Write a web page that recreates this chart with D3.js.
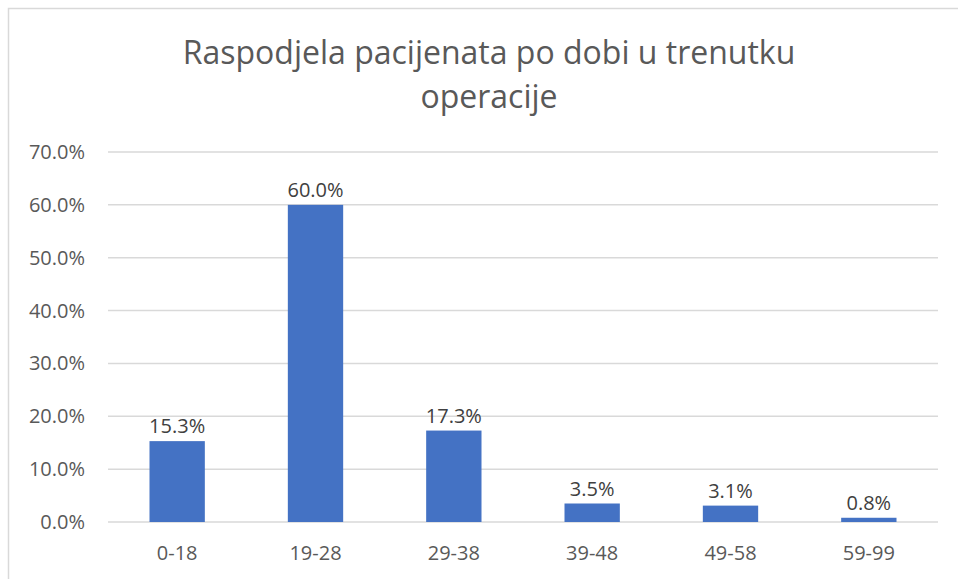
<!DOCTYPE html>
<html>
<head>
<meta charset="utf-8">
<script src="https://cdn.jsdelivr.net/npm/d3@7"></script>
<style>
  body { margin: 0; background: #fff; }
  text { font-family: "Open Sans", "Liberation Sans", sans-serif; fill: #595959; }
</style>
</head>
<body>
<div id="chart"></div>
<script>
const categories = ["0-18", "19-28", "29-38", "39-48", "49-58", "59-99"];
const values = [15.3, 60.0, 17.3, 3.5, 3.1, 0.8];
const yTicks = [0, 10, 20, 30, 40, 50, 60, 70];
const titleLines = ["Raspodjela pacijenata po dobi u trenutku", "operacije"];

const width = 958, height = 579;
const margin = {top: 152, right: 20, bottom: 57, left: 108};

const svg = d3.select("#chart")
  .append("svg")
    .attr("width", width)
    .attr("height", height);

// chart frame
svg.append("rect")
  .attr("x", 8.5)
  .attr("y", 8.5)
  .attr("width", width - 6)
  .attr("height", height)
  .attr("fill", "none")
  .attr("stroke", "#d9d9d9")
  .attr("stroke-width", 1.5);

// title
svg.append("g").selectAll("text")
  .data(titleLines)
  .join("text")
    .attr("x", 489)
    .attr("y", (d, i) => 64 + i * 44)
    .attr("text-anchor", "middle")
    .style("font-size", "32px")
    .text(d => d);

const x = d3.scaleBand()
  .domain(categories)
  .range([margin.left, 938])
  .paddingInner(0.6)
  .paddingOuter(0.3);

const y = d3.scaleLinear()
  .domain([0, 70])
  .range([522, margin.top]);

// gridlines
svg.append("g")
  .selectAll("line")
  .data(yTicks)
  .join("line")
    .attr("x1", margin.left)
    .attr("x2", 938)
    .attr("y1", d => y(d))
    .attr("y2", d => y(d))
    .attr("stroke", "#d9d9d9")
    .attr("stroke-width", 1.5);

// y axis labels
svg.append("g")
  .selectAll("text")
  .data(yTicks)
  .join("text")
    .attr("x", 85)
    .attr("y", d => y(d))
    .attr("dy", "0.35em")
    .attr("text-anchor", "end")
    .style("font-size", "20px")
    .text(d => d3.format(".1f")(d) + "%");

// bars
svg.append("g")
  .selectAll("rect")
  .data(values)
  .join("rect")
    .attr("x", (d, i) => x(categories[i]))
    .attr("y", d => y(d))
    .attr("width", x.bandwidth())
    .attr("height", d => y(0) - y(d))
    .attr("fill", "#4472C4");

// data labels
svg.append("g")
  .selectAll("text")
  .data(values)
  .join("text")
    .attr("x", (d, i) => x(categories[i]) + x.bandwidth() / 2)
    .attr("y", d => y(d) - 8)
    .attr("text-anchor", "middle")
    .style("font-size", "20px")
    .style("fill", "#404040")
    .text(d => d3.format(".1f")(d) + "%");

// category labels
svg.append("g")
  .selectAll("text")
  .data(categories)
  .join("text")
    .attr("x", d => x(d) + x.bandwidth() / 2)
    .attr("y", 560)
    .attr("text-anchor", "middle")
    .style("font-size", "20px")
    .text(d => d);
</script>
</body>
</html>
